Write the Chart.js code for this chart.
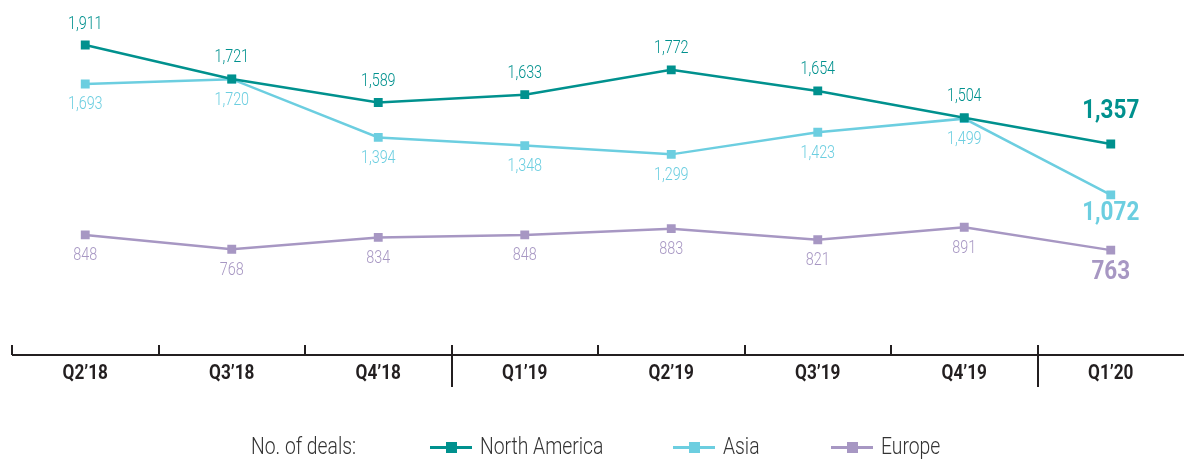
<!DOCTYPE html>
<html>
<head>
<meta charset="utf-8">
<script src="https://cdn.jsdelivr.net/npm/chart.js@4"></script>
<style>
    html, body { margin: 0; padding: 0; background: #fff; }
    #wrap { position: relative; width: 1184px; height: 459px; overflow: hidden; }
    #chart { position: absolute; left: 0; top: 0; }
    .lg { position: absolute; top: 434px; font-family: Roboto, sans-serif; font-weight: 300; font-size: 23px; color: #333; line-height: 26px; white-space: nowrap; transform: scaleX(0.84); transform-origin: left center; }
    .icon { position: absolute; top: 446px; height: 3px; }
    .icon span { position: absolute; left: 50%; top: -4px; width: 11px; height: 11px; margin-left: -5px; }
</style>
</head>
<body>
<div id="wrap">
    <canvas id="chart" width="1184" height="459"></canvas>
    <div id="legend"></div>
</div>
<script>
const categories = ["Q2\u201918", "Q3\u201918", "Q4\u201918", "Q1\u201919", "Q2\u201919", "Q3\u201919", "Q4\u201919", "Q1\u201920"];
const northAmerica = [1911, 1721, 1589, 1633, 1772, 1654, 1504, 1357];
const asia = [1693, 1720, 1394, 1348, 1299, 1423, 1499, 1072];
const europe = [848, 768, 834, 848, 883, 821, 891, 763];
const seriesNames = ["North America", "Asia", "Europe"];
const yearStarts = [3, 7]; // Q1 columns get the long divider

const colors = ['#00918E', '#6CCEE0', '#A797C3'];
const labelSide = [-1, 1, 1]; // -1 above the point, 1 below
const FONT = "Roboto, sans-serif";

// condensed look: squeeze text horizontally
function narrowText(ctx, text, x, y, squeeze) {
    ctx.save();
    ctx.translate(x, y);
    ctx.scale(squeeze, 1);
    ctx.fillText(text, 0, 0);
    ctx.restore();
}

// value labels next to each point, last one bold and bigger
const valueLabels = {
    id: 'valueLabels',
    afterDatasetsDraw(chart) {
        const ctx = chart.ctx;
        ctx.save();
        ctx.textAlign = 'center';
        ctx.textBaseline = 'middle';
        chart.data.datasets.forEach((ds, di) => {
            const meta = chart.getDatasetMeta(di);
            meta.data.forEach((pt, i) => {
                const last = i === ds.data.length - 1;
                ctx.fillStyle = colors[di];
                ctx.font = last ? 'bold 25px ' + FONT : '300 18px ' + FONT;
                let off = labelSide[di] * 21;
                if (last) off = di === 0 ? -32 : (di === 1 ? 19 : 23);
                narrowText(ctx, ds.data[i].toLocaleString('en-US'), pt.x, pt.y + off, last ? 0.9 : 0.8);
            });
        });
        ctx.restore();
    }
};

// bottom axis with section dividers and quarter labels
const quarterAxis = {
    id: 'quarterAxis',
    afterDraw(chart) {
        const ctx = chart.ctx;
        const xs = chart.scales.x;
        const area = chart.chartArea;
        const y0 = area.bottom;
        const step = (area.right - area.left) / categories.length;
        ctx.save();
        ctx.strokeStyle = '#231F20';
        ctx.lineWidth = 2;
        ctx.beginPath();
        ctx.moveTo(area.left, y0);
        ctx.lineTo(area.right, y0);
        ctx.stroke();
        // dividers at the left edge of each quarter (right edge falls off the page)
        for (let i = 0; i < categories.length; i++) {
            const x = Math.round(xs.getPixelForValue(i) - step / 2);
            ctx.beginPath();
            ctx.moveTo(x, y0 - 10);
            ctx.lineTo(x, yearStarts.includes(i) ? y0 + 32 : y0);
            ctx.stroke();
        }
        ctx.fillStyle = '#231F20';
        ctx.font = 'bold 20px ' + FONT;
        ctx.textAlign = 'center';
        ctx.textBaseline = 'middle';
        categories.forEach((c, i) => {
            narrowText(ctx, c, xs.getPixelForValue(i), y0 + 19, 0.86);
        });
        ctx.restore();
    }
};

const datasets = [northAmerica, asia, europe].map((vals, i) => ({
    label: seriesNames[i],
    data: vals,
    borderColor: colors[i],
    backgroundColor: colors[i],
    borderWidth: 2.5,
    pointStyle: 'rect',
    pointRadius: 4.5,
    pointHoverRadius: 4.5,
    tension: 0
}));

new Chart(document.getElementById('chart'), {
    type: 'line',
    data: { labels: categories, datasets: datasets },
    options: {
        responsive: false,
        animation: false,
        layout: { autoPadding: false, padding: { left: 12, right: 0, top: 0, bottom: 104 } },
        scales: {
            x: { display: false, offset: true },
            y: { display: false, min: 176, max: 2163 }
        },
        plugins: {
            legend: { display: false },
            tooltip: { enabled: false }
        },
        clip: false
    },
    plugins: [valueLabels, quarterAxis]
});

// legend row under the axis
const legendDiv = document.getElementById('legend');
const iconLeft = [430, 673, 831];
const textLeft = [480, 723, 881];
let html = '<div class="lg" style="left:251px">No. of deals:</div>';
seriesNames.forEach((name, i) => {
    html += `<div class="icon" style="left:${iconLeft[i]}px;width:42px;background:${colors[i]}"><span style="background:${colors[i]}"></span></div>`;
    html += `<div class="lg" style="left:${textLeft[i]}px">${name}</div>`;
});
legendDiv.innerHTML = html;
</script>
</body>
</html>
